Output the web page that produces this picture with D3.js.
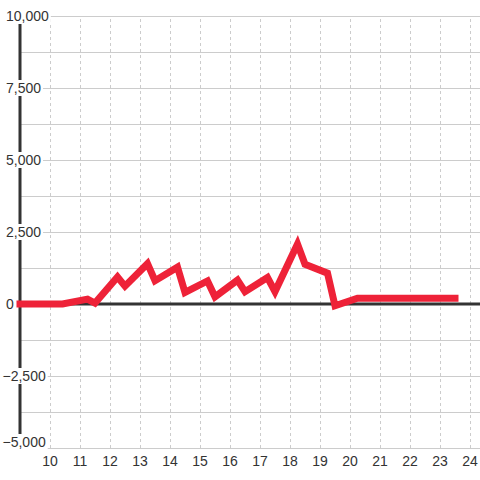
<!DOCTYPE html>
<html>
<head>
<meta charset="utf-8">
<script src="https://cdn.jsdelivr.net/npm/d3@7"></script>
<style>
  html, body { margin: 0; padding: 0; background: #fff; }
  svg { display: block; }
  text { font-family: "Liberation Sans", Arial, sans-serif; }
</style>
</head>
<body>
<svg id="chart" width="480" height="480"></svg>
<script>
// ---- data ----
const hours  = [9, 10.42, 11.25, 11.5, 12.25, 12.5, 13.25, 13.5, 14.25, 14.5, 15.25, 15.5, 16.25, 16.5, 17.25, 17.5, 18.25, 18.5, 19.25, 19.5, 20.25, 23.5];
const values = [0, 0, 170, 30, 940, 620, 1400, 810, 1280, 400, 800, 250, 830, 430, 920, 430, 2080, 1380, 1070, -60, 200, 200];
const xTicks = [10, 11, 12, 13, 14, 15, 16, 17, 18, 19, 20, 21, 22, 23, 24];
const yTicks = [-5000, -3750, -2500, -1250, 0, 1250, 2500, 3750, 5000, 6250, 7500, 8750, 10000];
const yLabels = [-5000, -2500, 0, 2500, 5000, 7500, 10000];

const svg = d3.select("#chart");
const x = d3.scaleLinear().domain([10, 24]).range([50, 470]);
const y = d3.scaleLinear().domain([-5000, 10000]).range([448, 16]);
const x0 = x(9); // y-axis position

// horizontal gridlines
svg.append("g").selectAll("line").data(yTicks).join("line")
  .attr("x1", x0).attr("x2", 480)
  .attr("y1", d => y(d)).attr("y2", d => y(d))
  .attr("stroke", "#cccccc").attr("stroke-width", 1).attr("shape-rendering", "crispEdges");

// vertical dashed gridlines
svg.append("g").selectAll("line").data(xTicks).join("line")
  .attr("x1", d => x(d)).attr("x2", d => x(d))
  .attr("y1", y(10000) + 3).attr("y2", y(-5000))
  .attr("stroke", "#cccccc").attr("stroke-width", 1)
  .attr("stroke-dasharray", "3,3").attr("shape-rendering", "crispEdges");

// y axis line
svg.append("line")
  .attr("x1", x0).attr("x2", x0)
  .attr("y1", y(10000)).attr("y2", 436)
  .attr("stroke", "#333").attr("stroke-width", 3);

// zero line
svg.append("line")
  .attr("x1", x0).attr("x2", 480)
  .attr("y1", y(0)).attr("y2", y(0))
  .attr("stroke", "#333").attr("stroke-width", 3);

// data line
const line = d3.line().x((d, i) => x(hours[i])).y(d => y(d));
svg.append("path")
  .datum(values)
  .attr("d", line)
  .attr("fill", "none")
  .attr("stroke", "#ee2238")
  .attr("stroke-width", 7)
  .attr("stroke-linejoin", "miter")
  .attr("stroke-linecap", "square");

// y labels with white background
const fmt = d3.format(",");
const yl = svg.append("g").selectAll("g").data(yLabels).join("g");
yl.each(function(d) {
  const g = d3.select(this);
  const cy = d === -5000 ? y(d) - 6 : y(d);
  const tx = d < 0 ? 2.5 : 6;
  const t = g.append("text")
    .attr("x", tx).attr("y", cy).attr("dy", "0.35em")
    .attr("font-size", 14).attr("fill", "#333")
    .text(fmt(d));
  const w = t.node().getComputedTextLength();
  g.insert("rect", "text")
    .attr("x", tx - 2).attr("y", cy - 8)
    .attr("width", w + 4).attr("height", 16)
    .attr("fill", "#fff");
});

// x labels
svg.append("g").selectAll("text").data(xTicks).join("text")
  .attr("x", d => x(d)).attr("y", 461).attr("dy", "0.35em")
  .attr("text-anchor", "middle")
  .attr("font-size", 14).attr("fill", "#333")
  .text(d => d);
</script>
</body>
</html>
